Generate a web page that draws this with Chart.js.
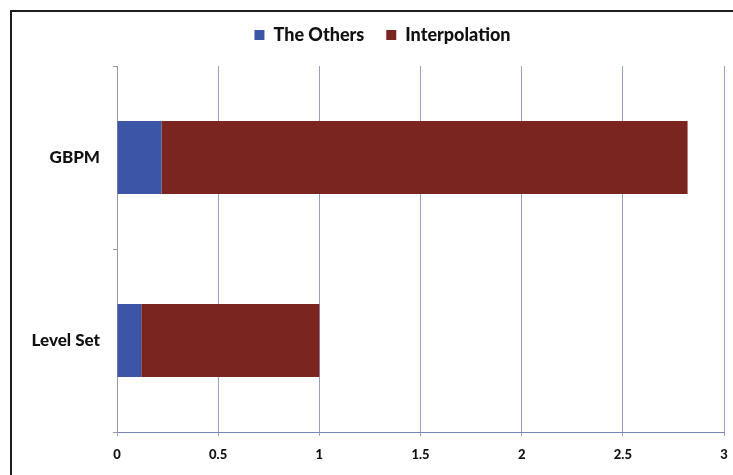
<!DOCTYPE html>
<html>
<head>
<meta charset="utf-8">
<script src="https://cdn.jsdelivr.net/npm/chart.js@4.4.0/dist/chart.umd.min.js"></script>
<style>
  html, body { margin: 0; padding: 0; background: #fff; overflow: hidden; }
  .frame {
    position: absolute; left: 10px; top: 10px; width: 740px; height: 480px;
    border-left: 2px solid #1c1c1c; border-top: 2px solid #1c1c1c;
  }
  .wrap { position: absolute; left: 0; top: 0; width: 733px; height: 475px; }
</style>
</head>
<body>
<div class="frame"></div>
<div class="wrap"><canvas id="myChart" width="733" height="475"></canvas></div>
<script>
  const categories = ["GBPM", "Level Set"];
  const othersValues = [0.22, 0.12];
  const interpolationValues = [2.6, 0.88];
  const xTicks = [0, 0.5, 1, 1.5, 2, 2.5, 3];

  // extra room under the legend, and nudge it a bit to the right
  const legendGap = {
    id: "legendGap",
    beforeInit(chart) {
      const fit = chart.legend.fit;
      chart.legend.fit = function () {
        fit.bind(chart.legend)();
        this.height += 12;
      };
    },
    afterLayout(chart) {
      chart.legend.left += 16;
      chart.legend.right += 16;
    },
  };

  const ctx = document.getElementById("myChart").getContext("2d");

  var data = {
    labels: categories,
    datasets: [
      {
        label: "The Others",
        data: othersValues,
        backgroundColor: "#3c55a6",
        borderWidth: 0,
      },
      {
        label: "Interpolation",
        data: interpolationValues,
        backgroundColor: "#7b2521",
        borderWidth: 0,
      },
    ],
  };

  var chartInstance = new Chart(ctx, {
    type: "bar",
    data: data,
    plugins: [legendGap],
    options: {
      indexAxis: "y",
      responsive: false,
      animation: false,
      datasets: {
        bar: { categoryPercentage: 1, barPercentage: 0.4 },
      },
      layout: { padding: { top: 4, right: 0, bottom: 0, left: 0 } },
      plugins: {
        tooltip: { enabled: false },
        legend: {
          display: true,
          position: "top",
          labels: {
            font: { family: "Lato", size: 18, weight: "900" },
            color: "#111",
            boxWidth: 10,
            boxHeight: 10,
            padding: 22,
          },
        },
      },
      scales: {
        x: {
          stacked: true,
          min: 0,
          max: 3,
          afterBuildTicks: (scale) => {
            scale.ticks = xTicks.map((v) => ({ value: v }));
          },
          afterFit: (scale) => {
            scale.height = 43;
            scale.paddingRight = 9;
            scale.paddingLeft = 0;
          },
          grid: {
            color: "#9aa0c4",
            lineWidth: 1,
            tickLength: 4,
          },
          border: { color: "#7688b8", width: 1 },
          ticks: {
            font: { family: "Lato", size: 13, weight: "900" },
            color: "#111",
            padding: 11,
            maxRotation: 0,
            callback: (value) => String(value),
          },
        },
        y: {
          stacked: true,
          afterFit: (scale) => {
            scale.width = 117;
          },
          grid: {
            drawOnChartArea: false,
            drawTicks: true,
            tickLength: 4,
            color: "#9a9a9a",
            offset: true,
          },
          border: { color: "#9a9a9a", width: 1 },
          ticks: {
            font: { family: "Lato", size: 17, weight: "900" },
            color: "#111",
            padding: 13,
          },
        },
      },
    },
  });
</script>
</body>
</html>
